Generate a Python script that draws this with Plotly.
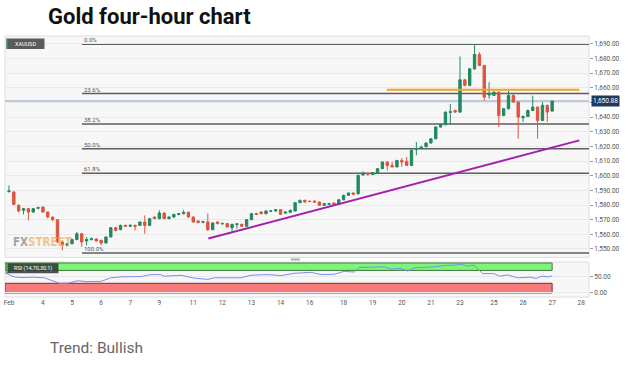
import plotly.graph_objects as go

# ---------------- data ----------------
candle_idx = list(range(113))
opens = [1589.2,1588.9,1579.8,1576.4,1577.5,1575.2,1577.8,1578.6,1575.2,1571.8,
         1570.0,1554.8,1552.5,1553.6,1556.4,1560.4,1555.5,1556.4,1556.8,1555.9,
         1554.1,1558.2,1564.5,1563.2,1566.1,1565.5,1566.1,1566.1,1568.4,1566.1,
         1571.8,1570.7,1574.5,1570.7,1571.8,1573.6,1574.1,1575.0,1571.8,1569.1,
         1568.2,1568.4,1563.2,1568.4,1567.1,1567.3,1564.5,1566.8,1566.8,1565.5,
         1570.0,1574.1,1575.2,1574.1,1575.8,1575.9,1576.8,1574.5,1575.0,1575.9,
         1581.6,1583.2,1582.6,1582.7,1582.0,1579.8,1580.4,1581.4,1580.4,1583.6,
         1586.6,1588.2,1587.7,1600.5,1601.6,1600.8,1602.0,1604.8,1609.3,1607.0,
         1606.0,1610.4,1609.8,1607.0,1618.0,1618.5,1619.8,1622.3,1625.2,1633.2,
         1634.8,1643.2,1644.5,1643.4,1665.4,1661.6,1672.9,1682.7,1675.2,1655.0,
         1654.8,1657.0,1641.1,1645.7,1654.8,1650.2,1639.5,1640.4,1644.5,1646.8,
         1637.7,1648.0,1644.1]
highs = [1593.4,1589.5,1580.4,1578.0,1578.0,1578.0,1578.8,1579.0,1575.5,1572.0,
         1570.4,1555.5,1554.0,1557.0,1561.6,1561.0,1558.2,1557.8,1557.3,1556.3,
         1558.6,1565.0,1565.0,1566.6,1566.6,1566.8,1566.6,1568.8,1572.9,1571.0,
         1572.2,1576.4,1575.0,1572.3,1574.0,1574.6,1576.4,1575.5,1572.2,1569.5,
         1569.2,1574.1,1568.2,1568.8,1568.0,1567.7,1567.2,1567.6,1567.2,1570.4,
         1574.6,1574.8,1575.8,1576.4,1576.6,1577.3,1577.2,1575.6,1576.8,1582.0,
         1583.6,1583.6,1583.0,1583.1,1582.4,1581.4,1581.4,1581.8,1584.0,1587.0,
         1588.6,1588.6,1600.8,1603.0,1602.0,1602.4,1605.2,1609.8,1609.8,1609.5,
         1610.8,1612.0,1612.7,1617.8,1623.0,1620.6,1622.8,1625.6,1633.6,1635.4,
         1643.8,1649.0,1645.0,1681.3,1666.0,1673.5,1689.5,1684.3,1675.6,1663.8,
         1657.5,1657.4,1646.2,1658.0,1655.3,1650.6,1641.0,1645.0,1654.6,1647.2,
         1650.2,1648.5,1651.3]
lows = [1588.4,1580.0,1575.0,1573.6,1569.5,1574.8,1577.0,1574.8,1571.0,1569.0,
        1554.0,1549.1,1551.8,1553.0,1556.0,1551.4,1552.5,1555.8,1555.0,1552.5,
        1553.6,1558.0,1562.0,1562.8,1565.0,1565.0,1562.7,1565.8,1560.4,1565.8,
        1570.3,1570.3,1570.3,1570.3,1571.4,1573.0,1573.6,1571.4,1568.0,1567.5,
        1567.5,1562.3,1562.8,1566.8,1566.5,1564.6,1561.6,1563.9,1565.0,1565.0,
        1569.6,1573.0,1573.6,1573.6,1575.2,1575.5,1573.2,1574.0,1574.6,1575.5,
        1581.2,1581.6,1582.0,1581.6,1579.4,1579.4,1580.0,1580.0,1580.0,1583.2,
        1586.2,1586.9,1587.0,1600.0,1600.0,1600.4,1601.6,1604.4,1603.6,1605.5,
        1605.6,1606.0,1606.6,1606.6,1614.0,1618.0,1619.4,1621.8,1624.8,1632.8,
        1634.4,1635.0,1642.8,1642.8,1661.0,1661.0,1672.2,1674.8,1651.3,1652.5,
        1654.4,1633.2,1640.6,1645.2,1649.8,1625.2,1636.6,1640.0,1644.0,1625.2,
        1637.2,1636.6,1643.6]
closes = [1589.6,1580.4,1575.9,1577.5,1575.2,1577.5,1578.2,1575.2,1571.8,1570.0,
          1554.8,1552.5,1553.6,1556.4,1560.4,1554.8,1556.4,1557.0,1555.5,1554.1,
          1558.2,1564.5,1562.7,1566.1,1565.5,1566.1,1565.5,1568.4,1566.1,1570.7,
          1570.7,1574.5,1570.7,1571.8,1573.6,1574.1,1575.0,1571.8,1568.4,1568.0,
          1568.6,1563.2,1567.7,1567.3,1567.4,1565.0,1566.8,1567.1,1565.5,1570.0,
          1574.1,1573.6,1574.1,1575.9,1576.0,1576.8,1573.6,1575.2,1576.4,1581.6,
          1583.2,1582.0,1582.4,1582.0,1579.8,1580.9,1580.9,1580.4,1583.6,1586.6,
          1588.2,1587.3,1600.2,1601.5,1601.0,1602.0,1604.8,1609.3,1607.0,1606.0,
          1610.4,1609.3,1607.0,1617.3,1618.4,1619.5,1622.3,1625.2,1633.2,1634.8,
          1643.4,1643.6,1643.4,1665.4,1661.6,1672.9,1682.7,1675.2,1653.6,1655.9,
          1657.0,1641.1,1645.7,1654.8,1650.2,1640.0,1640.4,1644.5,1646.8,1637.7,
          1648.0,1643.4,1650.88]

tick_pos = [0, 7, 13, 19, 25, 31, 38, 44, 50, 56, 62, 69, 75, 81, 87, 93, 100, 106, 112, 118]
tick_labels = ["Feb", "4", "5", "6", "7", "9", "11", "12", "13", "14", "16",
               "18", "19", "20", "21", "23", "25", "26", "27", "28"]

price_ticks = list(range(1550, 1691, 10))
rsi_ticks = [0, 50]

fib_high = 1689.6
fib_low = 1547.3
fib_ratios = [0.0, 0.236, 0.382, 0.5, 0.618, 1.0]
fib_labels = ["0.0%", "23.6%", "38.2%", "50.0%", "61.8%", "100.0%"]
fib_start = 15.05

last_price = 1650.88
resistance_price = 1658.6
resistance_x = [77.9, 117.6]
trend_x = [41.1, 117.6]
trend_y = [1557.1, 1624.1]

rsi_x = [-0.8, 1.1, 2.5, 5.2, 7.3, 9.3, 10.4, 12.1, 14.2, 16.2, 19.0, 21.0, 23.1,
         27.2, 29.3, 31.3, 32.0, 35.5, 38.2, 41.0, 42.3, 47.8, 49.9, 53.3, 56.1,
         58.8, 61.6, 62.3, 64.3, 67.1, 69.1, 71.2, 72.2, 75.3, 77.4, 78.8, 80.8,
         82.2, 83.6, 87.7, 89.8, 92.5, 93.2, 94.6, 95.9, 97.7, 100.1, 101.1,
         102.8, 104.9, 107.6, 108.7, 109.8, 111.2, 112.0]
rsi_y = [62, 50, 48, 49, 47, 36, 30, 30, 38, 35, 36, 47, 50,
         51, 57, 57, 52, 55, 46, 42, 47, 47, 55, 57, 54,
         61, 63, 64, 57, 58, 67, 65, 79, 79, 81, 74, 76,
         68, 78, 81, 85, 87, 89, 83, 86, 60, 60, 52,
         56, 47, 49, 45, 52, 50, 53]
rsi_over = [70, 93]
rsi_under = [0, 30]

# ---------------- geometry / style ----------------
W, H = 628, 366
L, R = 5, 589.3
T = 35.5
MAIN_B = 257.0
RSI_T = 261.7
RSI_B = 296.7
PH = RSI_B - T
PW = R - L
X_RANGE = [-0.82, 119.6]
Y_RANGE = [1544.3, 1695.3]
RSI_RANGE = [-12.5, 96]

def px(x):
    return (x - L) / PW

def py(y):
    return (RSI_B - y) / PH

GREEN = "#22895f"
RED = "#e0533f"
FONT = "Roboto, Arial, sans-serif"

# price tick labels; the one under the last-price tag is hidden by the tag
price_ticktext = ["" if abs(v - last_price) < 5 else f"{v:,.2f}" for v in price_ticks]

fig = go.Figure()

fig.add_trace(go.Candlestick(
    x=candle_idx, open=opens, high=highs, low=lows, close=closes,
    increasing=dict(line=dict(color=GREEN, width=1), fillcolor=GREEN),
    decreasing=dict(line=dict(color=RED, width=1), fillcolor=RED),
    whiskerwidth=0, showlegend=False, hoverinfo="skip", xaxis="x", yaxis="y"))

fig.add_trace(go.Scatter(x=trend_x, y=trend_y, mode="lines",
                         line=dict(color="#a51fae", width=2),
                         showlegend=False, hoverinfo="skip", xaxis="x", yaxis="y"))

fig.add_trace(go.Scatter(x=rsi_x, y=rsi_y, mode="lines",
                         line=dict(color="#7d8cf2", width=1),
                         showlegend=False, hoverinfo="skip", xaxis="x", yaxis="y2"))

shapes = []
# panel backgrounds
shapes.append(dict(type="rect", xref="paper", yref="paper", x0=0, x1=1,
                   y0=py(MAIN_B), y1=1, fillcolor="#f7f7f7",
                   line=dict(color="#dedede", width=1), layer="below"))
shapes.append(dict(type="rect", xref="paper", yref="paper", x0=0, x1=1,
                   y0=0, y1=py(RSI_T), fillcolor="#f7f7f7",
                   line=dict(color="#dedede", width=1), layer="below"))
# RSI zones
shapes.append(dict(type="rect", xref="x", yref="y2", x0=X_RANGE[0], x1=candle_idx[-1],
                   y0=rsi_over[0], y1=rsi_over[1], fillcolor="#7df57a",
                   line=dict(color="#3d7a3a", width=1), layer="below"))
shapes.append(dict(type="rect", xref="x", yref="y2", x0=X_RANGE[0], x1=candle_idx[-1],
                   y0=rsi_under[0], y1=rsi_under[1], fillcolor="#f77b7b",
                   line=dict(color="#7a3030", width=1), layer="below"))
# fibonacci lines
for r in fib_ratios:
    lvl = fib_high - (fib_high - fib_low) * r
    shapes.append(dict(type="line", xref="x", yref="y", x0=fib_start, x1=X_RANGE[1],
                       y0=lvl, y1=lvl, line=dict(color="#5e5e5e", width=1.5), layer="below"))
# current price line
shapes.append(dict(type="line", xref="paper", yref="y", x0=0, x1=1,
                   y0=last_price, y1=last_price,
                   line=dict(color="#a9b9d2", width=1.5), layer="below"))
# resistance line
shapes.append(dict(type="line", xref="x", yref="y", x0=resistance_x[0], x1=resistance_x[1],
                   y0=resistance_price, y1=resistance_price,
                   line=dict(color="#f4a21c", width=2), layer="above"))
# tags
shapes.append(dict(type="rect", xref="paper", yref="paper", x0=px(6.5), x1=px(44.5),
                   y0=py(48.5), y1=py(38), fillcolor="#5b5b5b", line=dict(width=0)))
shapes.append(dict(type="rect", xref="paper", yref="paper", x0=px(6.5), x1=px(7.8),
                   y0=py(48.5), y1=py(38), fillcolor="#2e9a5e", line=dict(width=0)))
shapes.append(dict(type="rect", xref="paper", yref="paper", x0=px(6.5), x1=px(58.5),
                   y0=py(273), y1=py(263), fillcolor="rgba(50,50,50,0.85)", line=dict(width=0)))
shapes.append(dict(type="rect", xref="paper", yref="paper", x0=px(6.5), x1=px(8),
                   y0=py(273), y1=py(263), fillcolor="#2eb84a", line=dict(width=0)))
# divider handle
shapes.append(dict(type="rect", xref="paper", yref="paper", x0=px(291), x1=px(300),
                   y0=py(260.3), y1=py(258.0), fillcolor="#b5b5b5", line=dict(width=0)))

annotations = []
for r, lab in zip(fib_ratios, fib_labels):
    lvl = fib_high - (fib_high - fib_low) * r
    annotations.append(dict(x=fib_start, y=lvl, xref="x", yref="y", text=lab,
                            showarrow=False, xanchor="left", yanchor="bottom",
                            font=dict(size=6, color="#555", family=FONT), yshift=-1))
annotations.append(dict(x=1, y=last_price, xref="paper", yref="y",
                        text="1,650.88", showarrow=False, xanchor="left", yanchor="middle",
                        xshift=2, bgcolor="#1f3a60", borderpad=1,
                        font=dict(size=6.5, color="white", family=FONT)))
annotations.append(dict(x=px(26), y=py(43.3), xref="paper", yref="paper", text="XAUUSD",
                        showarrow=False, xanchor="center", yanchor="middle",
                        font=dict(size=5.5, color="white", family=FONT)))
annotations.append(dict(x=px(33), y=py(268), xref="paper", yref="paper", text="RSI (14,70,30,1)",
                        showarrow=False, xanchor="center", yanchor="middle",
                        font=dict(size=5.5, color="white", family=FONT)))
annotations.append(dict(x=px(11.5), y=py(241.5), xref="paper", yref="paper",
                        text="<b><span style='color:#8f8f8f'>FX</span><span style='color:#f3b46e'>STREET</span></b>",
                        showarrow=False, xanchor="left", yanchor="middle", opacity=0.8,
                        font=dict(size=11.5, family="Liberation Sans Narrow, DejaVu Sans Condensed, Arial Narrow, sans-serif")))
annotations.append(dict(x=px(48), y=py(348), xref="paper", yref="paper", text="Trend: Bullish",
                        showarrow=False, xanchor="left", yanchor="middle",
                        font=dict(size=15.5, color="#666666", family=FONT)))

fig.update_layout(
    width=W, height=H,
    margin=dict(l=L, r=W - R, t=T, b=H - RSI_B, pad=0),
    paper_bgcolor="white", plot_bgcolor="rgba(0,0,0,0)",
    title=dict(text="<b>Gold four-hour chart</b>", x=48 / W, xanchor="left",
               y=1 - 16.5 / H, yanchor="middle",
               font=dict(size=22, color="#111111", family=FONT)),
    showlegend=False,
    xaxis=dict(domain=[0, 1], anchor="y2", range=X_RANGE, showgrid=False, zeroline=False,
               showline=False, tickmode="array", tickvals=tick_pos, ticktext=tick_labels,
               tickfont=dict(size=6.5, color="#555", family=FONT), ticks="",
               rangeslider=dict(visible=False), fixedrange=True),
    yaxis=dict(domain=[py(MAIN_B), 1], anchor="x", side="right", range=Y_RANGE,
               tickmode="array", tickvals=price_ticks, ticktext=price_ticktext,
               showgrid=True, gridcolor="#e9e9e9", gridwidth=1, zeroline=False,
               ticks="outside", ticklen=3, tickcolor="#999",
               tickfont=dict(size=6.5, color="#555", family=FONT)),
    yaxis2=dict(domain=[0, py(RSI_T)], anchor="x", side="right", range=RSI_RANGE,
                tickmode="array", tickvals=rsi_ticks, tickformat=".2f",
                showgrid=True, gridcolor="#e9e9e9", zeroline=False,
                ticks="outside", ticklen=3, tickcolor="#999",
                tickfont=dict(size=6.5, color="#555", family=FONT)),
    shapes=shapes, annotations=annotations,
)

fig.write_html("out.html", config={"displayModeBar": False},
               post_script="document.body.style.margin='0';document.body.style.padding='0';document.body.style.overflow='hidden';")
